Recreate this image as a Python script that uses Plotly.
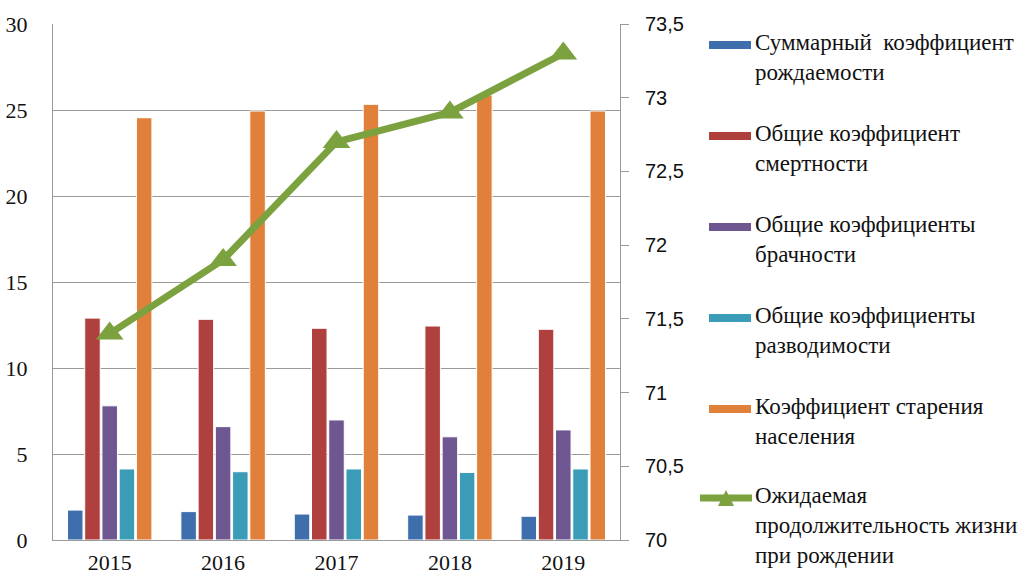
import plotly.graph_objects as go

# Demographic indicators by year
years = ["2015", "2016", "2017", "2018", "2019"]
fertility = [1.74, 1.65, 1.51, 1.45, 1.38]
mortality = [12.9, 12.83, 12.31, 12.44, 12.25]
marriage = [7.8, 6.59, 6.98, 6.0, 6.4]
divorce = [4.13, 3.97, 4.13, 3.93, 4.13]
aging = [24.55, 24.94, 25.33, 25.87, 24.94]
life_expectancy = [71.4, 71.9, 72.7, 72.9, 73.3]

bar_names = [
    "Суммарный  коэффициент<br>рождаемости",
    "Общие коэффициент<br>смертности",
    "Общие коэффициенты<br>брачности",
    "Общие коэффициенты<br>разводимости",
    "Коэффициент старения<br>населения",
]
line_name = "Ожидаемая<br>продолжительность жизни<br>при рождении"

bar_colors = ["#3F6EAC", "#B0403D", "#6E5690", "#3A9CB6", "#E0803A"]
line_color = "#7BA23F"

SERIF = "Liberation Serif, Times New Roman, DejaVu Serif, serif"
SANS = "Liberation Sans, Arial, sans-serif"

W, H = 1027, 576
L, R, T, B = 53, 620, 24, 540


def px(x):
    return (x - L) / (R - L)


def py(y):
    return (B - y) / (B - T)


fig = go.Figure()
for name, vals, col in zip(bar_names, [fertility, mortality, marriage, divorce, aging], bar_colors):
    fig.add_trace(go.Bar(
        x=years, y=vals, name=name,
        marker=dict(color=col, line=dict(color="white", width=1)),
        showlegend=False,
    ))

fig.add_trace(go.Scatter(
    x=years, y=life_expectancy, name=line_name, yaxis="y2",
    mode="lines+markers",
    line=dict(color=line_color, width=7),
    marker=dict(symbol="triangle-up", size=24, color=line_color),
    showlegend=False,
))

# Legend drawn on the right side
shapes = []
annotations = []
legend_y = [45, 136, 227, 318, 409]
for yy, col, name in zip(legend_y, bar_colors, bar_names):
    shapes.append(dict(type="rect", xref="paper", yref="paper",
                       x0=px(709), x1=px(751), y0=py(yy - 4), y1=py(yy + 4),
                       fillcolor=col, line=dict(width=0)))
    annotations.append(dict(xref="paper", yref="paper", x=px(753), y=py(yy - 17),
                            xanchor="left", yanchor="top", align="left",
                            text=name, showarrow=False,
                            font=dict(family=SERIF, size=23, color="#111")))
ly = 498
shapes.append(dict(type="line", xref="paper", yref="paper",
                   x0=px(700), x1=px(752), y0=py(ly), y1=py(ly),
                   line=dict(color=line_color, width=7)))
shapes.append(dict(type="path", xref="paper", yref="paper",
                   path="M {} {} L {} {} L {} {} Z".format(px(718), py(ly + 8), px(734), py(ly + 8), px(726), py(ly - 8)),
                   fillcolor=line_color, line=dict(width=0)))
annotations.append(dict(xref="paper", yref="paper", x=px(753), y=py(ly - 17),
                        xanchor="left", yanchor="top", align="left",
                        text=line_name, showarrow=False,
                        font=dict(family=SERIF, size=23, color="#111")))

fig.update_layout(
    width=W, height=H,
    margin=dict(l=L, r=W - R, t=T, b=H - B),
    paper_bgcolor="white", plot_bgcolor="white",
    barmode="group", bargap=0.24, bargroupgap=0.1,
    separators=", ",
    shapes=shapes, annotations=annotations,
    xaxis=dict(
        showline=True, linecolor="#9a9a9a", linewidth=1,
        showgrid=False, ticks="", ticklabelstandoff=3, automargin=False,
        tickfont=dict(family=SERIF, size=22, color="#111"),
    ),
    yaxis=dict(
        range=[0, 30], dtick=5, showline=True, linecolor="#9a9a9a",
        showgrid=True, gridcolor="#9a9a9a", gridwidth=1, zeroline=False,
        ticks="", ticklabelstandoff=20, automargin=False,
        tickfont=dict(family=SERIF, size=22, color="#111"),
    ),
    yaxis2=dict(
        range=[70, 73.5], dtick=0.5, overlaying="y", side="right",
        showline=True, linecolor="#9a9a9a", showgrid=False, zeroline=False,
        ticks="outside", ticklen=8, tickcolor="#9a9a9a", ticklabelstandoff=12,
        automargin=False,
        tickfont=dict(family=SANS, size=20, color="#111"),
    ),
)

fig.write_html("out.html")
